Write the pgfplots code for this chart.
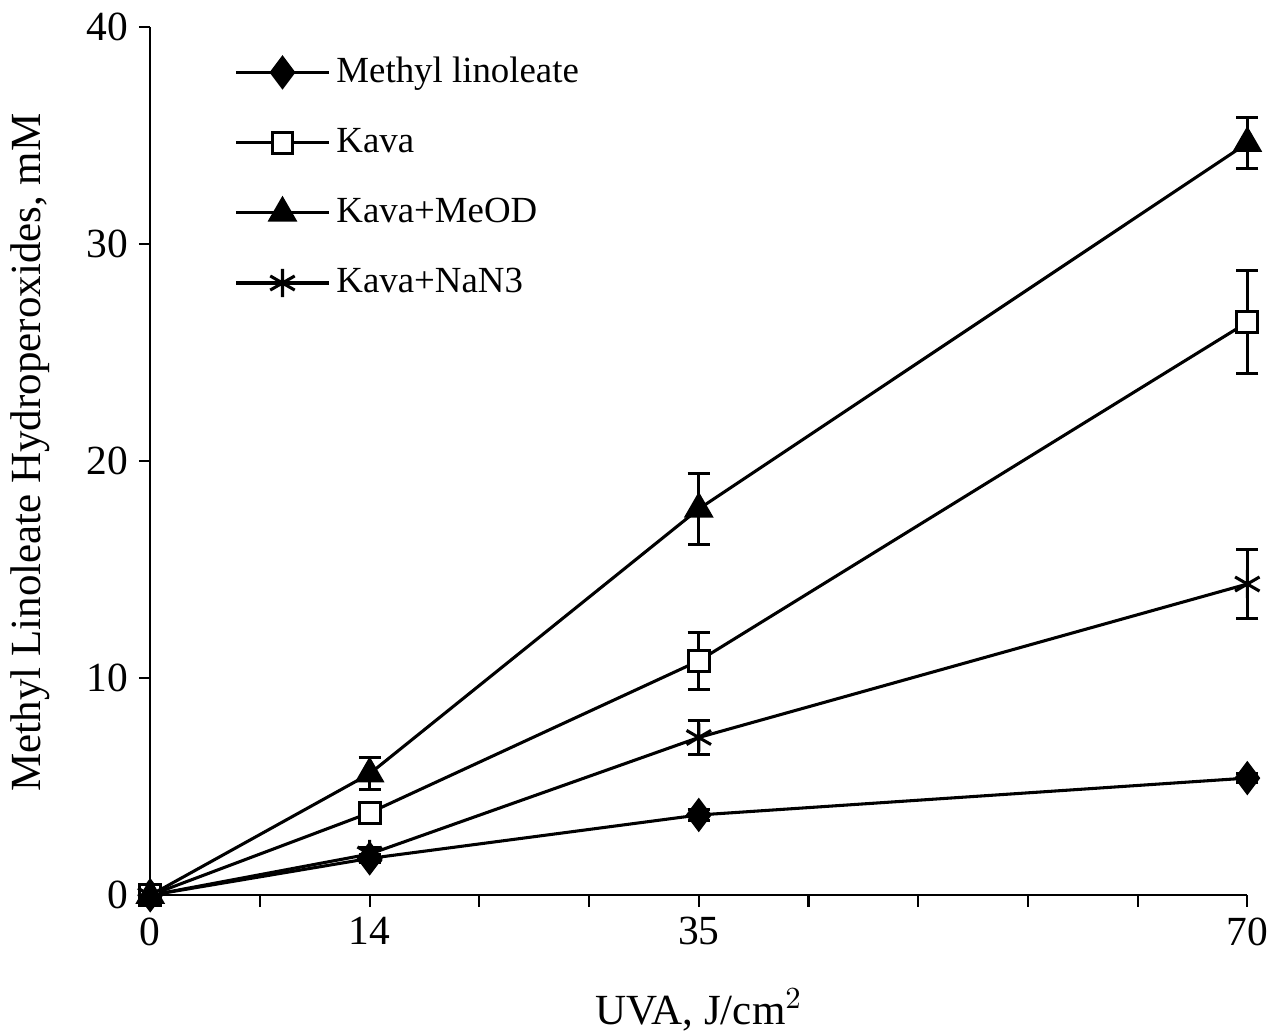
\documentclass[border=0pt]{standalone}
\usepackage{fontspec}
\setmainfont{Liberation Serif}
\usepackage{pgfplots}
\pgfplotsset{compat=1.18}

\begin{document}
\begin{tikzpicture}
\begin{axis}[
    name=ax,
    scale only axis,
    width=12.56cm, height=9.94cm,
    xmin=0, xmax=70, ymin=0, ymax=40,
    axis lines*=left,
    axis line style={line width=0.7pt},
    xtick={0,14,35,70},
    minor xtick={7,21,28,42,49,56,63},
    ytick={0,10,20,30,40},
    tick align=outside,
    major tick length=0.13cm, minor tick length=0.13cm,
    tick style={line width=0.7pt, black},
    /pgf/number format/assume math mode=true,
    tick label style={font=\fontsize{13.5}{16}\selectfont},
    xlabel={UVA, J/cm$^{2}$},
    ylabel={Methyl Linoleate Hydroperoxides, mM},
    label style={font=\fontsize{14}{17}\selectfont},
    xlabel style={at={(axis description cs:0.5,-0.132)}, anchor=center},
    ylabel style={at={(axis description cs:-0.109,0.51)}, anchor=center},
    clip=false,
    legend cell align=left,
    legend style={draw=none, fill=none, at={(axis description cs:0.068,0.98)}, anchor=north west,
        font=\fontsize{12}{14}\selectfont, row sep=0.33cm},
    legend image code/.code={\draw[mark repeat=2,mark phase=2] plot coordinates {(0cm,0cm) (0.53cm,0cm) (1.06cm,0cm)};},
    error bars/error bar style={line width=1pt, black},
    error bars/error mark options={rotate=90, mark size=3.6pt, line width=1pt, black},
]
\addplot[black, line width=1pt, mark=diamond*, mark size=4.8pt, mark options={draw=black, fill=black, solid},
    error bars/.cd, y dir=both, y explicit] coordinates {
    (0,0) +- (0,0)
    (14,1.7) +- (0,0.2)
    (35,3.7) +- (0,0.25)
    (70,5.4) +- (0,0.2)
};
\addlegendentry{Methyl linoleate}
\addplot[black, line width=1pt, mark=square*, mark size=3.4pt, mark options={draw=black, fill=white, solid},
    error bars/.cd, y dir=both, y explicit] coordinates {
    (0,0) +- (0,0)
    (14,3.8) +- (0,0.3)
    (35,10.8) +- (0,1.31)
    (70,26.4) +- (0,2.37)
};
\addlegendentry{Kava}
\addplot[black, line width=1pt, mark=triangle*, mark size=4.6pt, mark options={draw=black, fill=black, solid},
    error bars/.cd, y dir=both, y explicit] coordinates {
    (0,0) +- (0,0)
    (14,5.6) +- (0,0.74)
    (35,17.8) +- (0,1.65)
    (70,34.65) +- (0,1.17)
};
\addlegendentry{Kava+MeOD}
\addplot[black, line width=1pt, mark=asterisk, mark size=4.6pt, mark options={draw=black, solid, line width=1pt},
    error bars/.cd, y dir=both, y explicit] coordinates {
    (0,0) +- (0,0)
    (14,1.9) +- (0,0.3)
    (35,7.27) +- (0,0.78)
    (70,14.34) +- (0,1.59)
};
\addlegendentry{Kava+NaN3}
\end{axis}
\pgfresetboundingbox
\path ([xshift=-1.72cm,yshift=-1.60cm]ax.south west) rectangle ([xshift=0.42cm,yshift=0.31cm]ax.north east);
\end{tikzpicture}
\end{document}
